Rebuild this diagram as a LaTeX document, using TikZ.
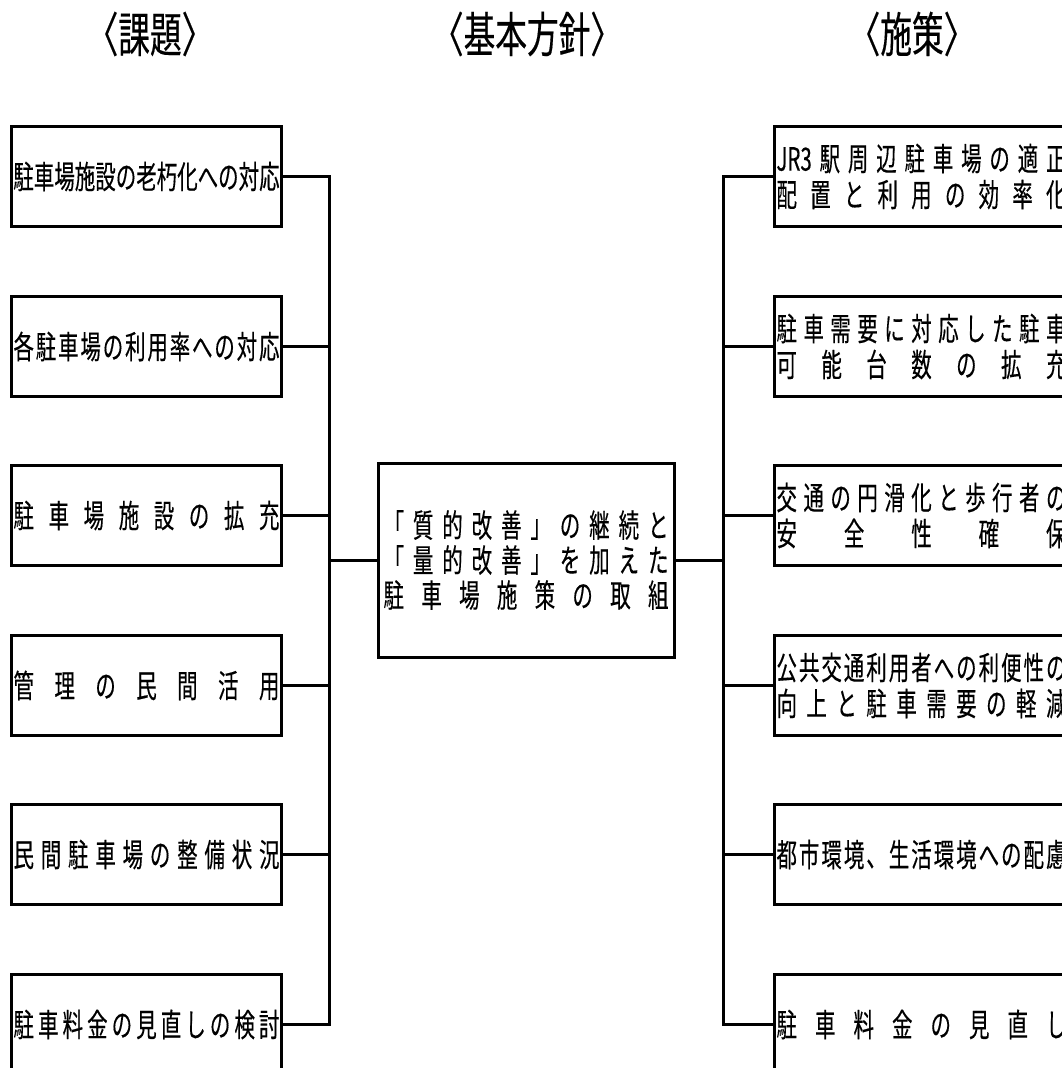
\documentclass[tikz,border=0pt]{standalone}
\usepackage{fontspec}
\setmainfont{Noto Sans CJK JP}[FakeStretch=0.64, FakeBold=0.3]
\newfontfamily\headfont{Noto Sans CJK JP}[FakeStretch=0.66, FakeBold=0.3]
\usetikzlibrary{positioning}

% spread the characters of one line over a given width
\makeatletter
\newcommand\spreadline[2]{\makebox[#1]{\spr@first#2\relax}}
\def\spr@first#1{#1\spr@next}
\def\spr@next#1{\def\spr@tmp{#1}\ifx\spr@tmp\spr@stop\else\hfill#1\expandafter\spr@next\fi}
\def\spr@stop{\relax}
\makeatother

\tikzset{
    heading/.style={font=\headfont\fontsize{48}{52}\selectfont, inner sep=0pt},
    issue/.style={rectangle, draw=black, line width=3pt, minimum width=270pt, minimum height=100pt, inner sep=0pt, anchor=north west, font=\fontsize{32}{36}\selectfont},
    measure/.style={rectangle, draw=black, line width=3pt, minimum height=100pt, inner xsep=2pt, inner ysep=0pt, text width=290pt, align=left, anchor=north west, font=\fontsize{32}{36}\selectfont},
    policy/.style={rectangle, draw=black, line width=3pt, minimum width=296pt, minimum height=194pt, inner sep=0pt, align=center, font=\fontsize{32}{35}\selectfont},
    link/.style={line width=3pt}
}

\begin{document}
\begin{tikzpicture}[x=1pt, y=-1pt]
    \useasboundingbox (0,0) rectangle (1062,1068);
    \clip (0,0) rectangle (1062,1068);
    \fill[white] (0,0) rectangle (1062,1068);

    % Headings
    \node (h1) [heading] at (150,34) {〈課題〉};
    \node (h2) [heading] at (527,34) {〈基本方針〉};
    \node (h3) [heading] at (912,34) {〈施策〉};

    % Issues
    \node (L1) [issue] at (10,125) {\spreadline{266pt}{駐車場施設の老朽化への対応}};
    \node (L2) [issue] at (10,295) {\spreadline{266pt}{各駐車場の利用率への対応}};
    \node (L3) [issue] at (10,464) {\spreadline{266pt}{駐車場施設の拡充}};
    \node (L4) [issue] at (10,634) {\spreadline{266pt}{管理の民間活用}};
    \node (L5) [issue] at (10,803) {\spreadline{266pt}{民間駐車場の整備状況}};
    \node (L6) [issue] at (10,973) {\spreadline{266pt}{駐車料金の見直しの検討}};

    % Basic policy
    \node (P) [policy] at (526,560) {\spreadline{285pt}{「質的改善」の継続と}\\\spreadline{285pt}{「量的改善」を加えた}\\\spreadline{285pt}{駐車場施策の取組}};

    % Measures
    \node (R1) [measure] at (773,125) {\spreadline{290pt}{{JR3}駅周辺駐車場の適正}\\\spreadline{290pt}{配置と利用の効率化}};
    \node (R2) [measure] at (773,295) {\spreadline{290pt}{駐車需要に対応した駐車}\\\spreadline{290pt}{可能台数の拡充}};
    \node (R3) [measure] at (773,464) {\spreadline{290pt}{交通の円滑化と歩行者の}\\\spreadline{290pt}{安全性確保}};
    \node (R4) [measure] at (773,634) {\spreadline{290pt}{公共交通利用者への利便性の}\\\spreadline{290pt}{向上と駐車需要の軽減}};
    \node (R5) [measure] at (773,803) {\spreadline{290pt}{都市環境、生活環境への配慮}};
    \node (R6) [measure] at (773,973) {\spreadline{290pt}{駐車料金の見直し}};

    % Connectors
    \coordinate (jl) at (329,560);
    \coordinate (jr) at (723,560);
    \foreach \i in {1,...,6} {
        \draw[link] (L\i.east) -| (jl);
        \draw[link] (R\i.west) -| (jr);
    }
    \draw[link] (jl) -- (P.west);
    \draw[link] (P.east) -- (jr);
\end{tikzpicture}
\end{document}
